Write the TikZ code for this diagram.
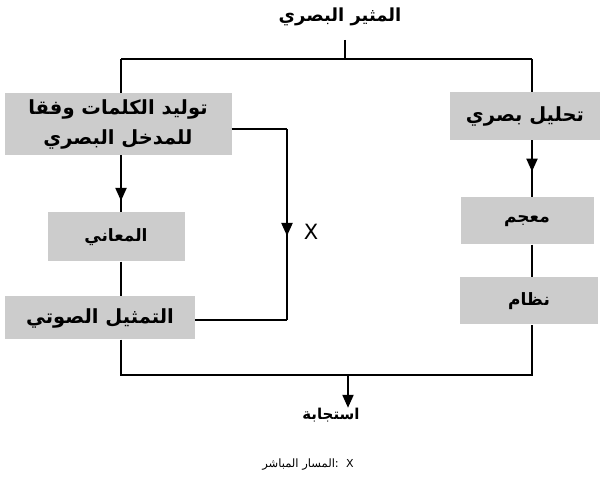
\documentclass[tikz,border=0pt]{standalone}
\usepackage{fontspec}
\setmainfont{DejaVu Sans}
\newfontfamily\arabicfont[Script=Arabic]{DejaVu Sans}
\TeXXeTstate=1
\usetikzlibrary{arrows.meta,decorations.markings}
\tikzset{
  ln/.style={line width=2.1pt,black},
  boxnode/.style={fill=black!20,inner sep=0pt,font=\arabicfont\bfseries\fontsize{19.5}{30}\selectfont,align=center},
  midsize/.style={font=\arabicfont\bfseries\fontsize{17}{20}\selectfont},
  midarrow/.style={postaction={decorate},decoration={markings,mark=at position #1 with {\arrow{Triangle[length=13pt,width=11pt]}}}},
  lbl/.style={inner sep=0pt,font=\arabicfont\bfseries\fontsize{15}{18}\selectfont}
}
\begin{document}
\begin{tikzpicture}[x=1pt,y=-1pt]
\useasboundingbox (0,0) rectangle (600,486);
% title
\node[lbl,font=\arabicfont\bfseries\fontsize{18}{20}\selectfont] (title) at (340,17) {\beginR المثير البصري\endR};
\coordinate (tick) at (345,40);
\coordinate (tickb) at (345,59);
\coordinate (lt) at (121,59);
\coordinate (rt) at (532,59);
\coordinate (lb) at (121,375);
\coordinate (rb) at (532,375);
\coordinate (bm) at (348,375);
\coordinate (xa) at (287,129);
\coordinate (xb) at (287,320);
% left boxes
\node[boxnode,minimum width=227pt,minimum height=62pt] (L1) at (118,124) {\beginR توليد الكلمات وفقا\endR\\\beginR للمدخل البصري\endR};
\node[boxnode,midsize,minimum width=137pt,minimum height=49pt] (L2) at (116,237) {\beginR المعاني\endR};
\node[boxnode,minimum width=190pt,minimum height=43pt] (L3) at (100,318) {\beginR التمثيل الصوتي\endR};
% right boxes
\node[boxnode,minimum width=150pt,minimum height=48pt] (R1) at (525,116) {\beginR تحليل بصري\endR};
\node[boxnode,midsize,minimum width=133pt,minimum height=47pt] (R2) at (527,221) {\beginR معجم\endR};
\node[boxnode,midsize,minimum width=138pt,minimum height=47pt] (R3) at (529,301) {\beginR نظام\endR};
% response and legend
\node[lbl] (resp) at (331,415) {\beginR استجابة\endR};
\node[lbl,font=\arabicfont\fontsize{11.5}{13}\selectfont] (legend) at (308,465) {\beginR المسار المباشر\endR:\ \ {\fontsize{11}{12}\selectfont X}};
\node[inner sep=0pt,font=\fontsize{21}{24}\selectfont] (xl) at (311,232) {X};
% connectors
\draw[ln] (tick) -- (tickb);
\draw[ln] (lt) -- (rt);
\draw[ln] (lt) -- (lt |- L1.north);
\draw[ln] (rt) -- (rt |- R1.north);
\draw[ln,midarrow=0.8] (L1.south -| lt) -- (L2.north -| lt);
\draw[ln] (L2.south -| lt) -- (L3.north -| lt);
\draw[ln] (L3.south -| lb) -- (lb) -- (rb) -- (R3.south -| rb);
\draw[ln,midarrow=0.55] (R1.south -| rt) -- (R2.north -| rt);
\draw[ln] (R2.south -| rt) -- (R3.north -| rt);
\draw[ln] (L1.east |- xa) -- (xa);
\draw[ln,midarrow=0.56] (xa) -- (xb);
\draw[ln] (xb) -- (L3.east |- xb);
\draw[ln,-{Triangle[length=13pt,width=11pt]}] (bm) -- (resp.north -| bm);
\end{tikzpicture}
\end{document}
